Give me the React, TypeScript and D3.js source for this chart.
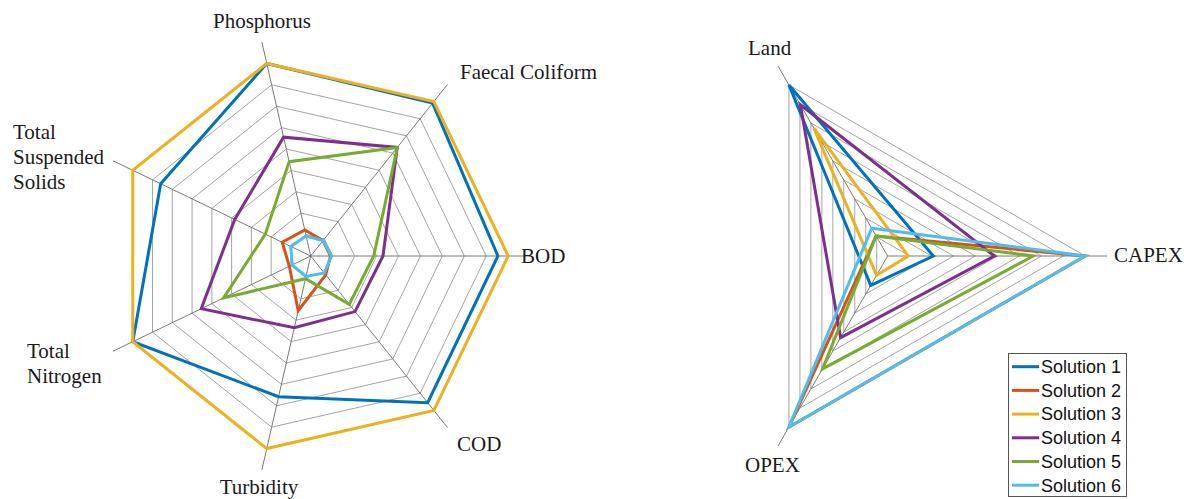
import React from "react";
import * as d3 from "d3";

// ---------- DATA ----------
const waterAxes = ["BOD", "Faecal Coliform", "Phosphorus", "Total Suspended Solids", "Total Nitrogen", "Turbidity", "COD"];
const costAxes = ["Land", "CAPEX", "OPEX"];
const solutions = ["Solution 1", "Solution 2", "Solution 3", "Solution 4", "Solution 5", "Solution 6"];

// normalised scores (0..1) per water-quality axis, in waterAxes order
const water1 = [0.948, 0.99, 1.0, 0.843, 1.0, 0.731, 0.95];
const water2 = [0.1, 0.1, 0.135, 0.16, 0.12, 0.284, 0.122];
const water3 = [1.0, 1.0, 1.0, 1.0, 1.0, 1.0, 1.0];
const water4 = [0.366, 0.703, 0.617, 0.427, 0.615, 0.373, 0.36];
const water5 = [0.319, 0.703, 0.49, 0.255, 0.49, 0.118, 0.313];
const water6 = [0.105, 0.1, 0.104, 0.112, 0.104, 0.106, 0.11];

// normalised scores (0..1) per cost axis, in costAxes order
const cost1 = [1.0, 0.231, 0.172];
const cost2 = [0.117, 1.0, 1.0];
const cost3 = [0.748, 0.104, 0.113];
const cost4 = [0.884, 0.54, 0.477];
const cost5 = [0.117, 0.737, 0.66];
const cost6 = [0.162, 1.0, 1.0];

const waterSeries = [water1, water2, water3, water4, water5, water6];
const costSeries = [cost1, cost2, cost3, cost4, cost5, cost6];
const ringCount = 9;

// ---------- STYLE / LAYOUT ----------
const colors = ["#0072BD", "#D95319", "#EDB120", "#7E2F8E", "#77AC30", "#4DBEEE"];
const W = 1192;
const H = 499;
const R = 197.5;
const leftCenter = { x: 310.7, y: 256 };
const rightCenter = { x: 887.7, y: 256 };

const serif = "'Liberation Serif', 'Times New Roman', serif";
const sans = "'Liberation Sans', Arial, sans-serif";

const waterLabelLayout = [
  { x: 521, y: 263, anchor: "start", lines: ["BOD"] },
  { x: 460, y: 79, anchor: "start", lines: ["Faecal Coliform"] },
  { x: 262, y: 28, anchor: "middle", lines: ["Phosphorus"] },
  { x: 13, y: 139, anchor: "start", lines: ["Total", "Suspended", "Solids"] },
  { x: 27, y: 358, anchor: "start", lines: ["Total", "Nitrogen"] },
  { x: 259, y: 494, anchor: "middle", lines: ["Turbidity"] },
  { x: 457, y: 451, anchor: "start", lines: ["COD"] },
];
const costLabelLayout = [
  { x: 748, y: 55, anchor: "start", lines: ["Land"] },
  { x: 1114, y: 262, anchor: "start", lines: ["CAPEX"] },
  { x: 745, y: 472, anchor: "start", lines: ["OPEX"] },
];

type Pt = { x: number; y: number };

function Radar(props: {
  center: Pt;
  axes: string[];
  series: number[][];
  startDeg: number;
  dir: number;
  labels: { x: number; y: number; anchor: string; lines: string[] }[];
}) {
  const { center, axes, series, labels, startDeg, dir } = props;
  const n = axes.length;
  const rScale = d3.scaleLinear().domain([0, 1]).range([0, R]);
  // math angle (ccw from 3 o'clock) of axis i, converted to d3.lineRadial angle (0 at 12 o'clock, clockwise)
  const angleOf = (i: number) => {
    const theta = ((startDeg + dir * (i * 360) / n) * Math.PI) / 180;
    return Math.PI / 2 - theta;
  };
  const radial = d3
    .lineRadial<number>()
    .angle((_d, i) => angleOf(i))
    .radius((d) => rScale(d))
    .curve(d3.curveLinearClosed);

  const rings = d3.range(1, ringCount + 1).map((k) => k / ringCount);
  const axisEnd = rScale((ringCount + 1) / ringCount);

  return (
    <g>
      <g transform={`translate(${center.x},${center.y})`}>
        {rings.map((v, k) => (
          <path
            key={"ring" + k}
            d={radial(d3.range(n).map(() => v)) || ""}
            fill="none"
            stroke="#9a9a9a"
            strokeWidth={0.9}
          />
        ))}
        {axes.map((_a, i) => {
          const a = angleOf(i);
          return (
            <line
              key={"ax" + i}
              x1={0}
              y1={0}
              x2={axisEnd * Math.sin(a)}
              y2={-axisEnd * Math.cos(a)}
              stroke="#7a7a7a"
              strokeWidth={1}
            />
          );
        })}
        {series.map((vals, s) => (
          <path
            key={"s" + s}
            d={radial(vals) || ""}
            fill="none"
            stroke={colors[s]}
            strokeWidth={3}
            strokeLinejoin="miter"
          />
        ))}
      </g>
      {labels.map((lab, i) => (
        <text
          key={"lab" + i}
          x={lab.x}
          y={lab.y}
          textAnchor={lab.anchor as any}
          fontFamily={serif}
          fontSize={21}
          fill="#1a1a1a"
        >
          {lab.lines.map((t, j) => (
            <tspan key={j} x={lab.x} dy={j === 0 ? 0 : 25}>
              {t}
            </tspan>
          ))}
        </text>
      ))}
    </g>
  );
}

function Legend() {
  const x0 = 1008.5;
  const y0 = 353.5;
  const step = 23.7;
  const yScale = d3
    .scaleLinear()
    .domain([0, solutions.length - 1])
    .range([366.7, 366.7 + step * (solutions.length - 1)]);
  return (
    <g>
      <rect x={x0} y={y0} width={118} height={143} fill="#fff" stroke="#555" strokeWidth={1} />
      {solutions.map((s, i) => (
        <g key={s}>
          <line x1={1012} x2={1039} y1={yScale(i)} y2={yScale(i)} stroke={colors[i]} strokeWidth={3} />
          <text x={1041} y={yScale(i) + 6.3} fontFamily={sans} fontSize={18} fill="#111">
            {s}
          </text>
        </g>
      ))}
    </g>
  );
}

export default function App() {
  return (
    <svg
      width={W}
      height={H}
      viewBox={`0 0 ${W} ${H}`}
      style={{ position: "absolute", left: 0, top: 0, display: "block", background: "#fff" }}
    >
      <rect x={0} y={0} width={W} height={H} fill="#fff" />
      <Radar center={leftCenter} axes={waterAxes} series={waterSeries} startDeg={0} dir={1} labels={waterLabelLayout} />
      <Radar center={rightCenter} axes={costAxes} series={costSeries} startDeg={120} dir={-1} labels={costLabelLayout} />
      <Legend />
    </svg>
  );
}
